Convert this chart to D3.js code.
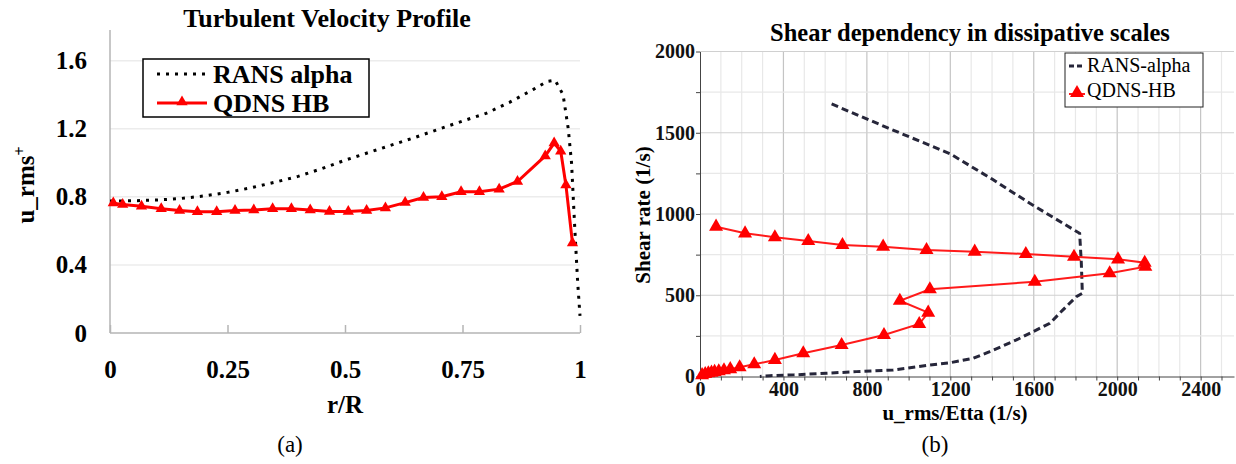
<!DOCTYPE html>
<html lang="en">
<head>
<meta charset="utf-8">
<title>Turbulent velocity / shear dependency</title>
<script src="https://cdn.jsdelivr.net/npm/d3@7"></script>
<style>
  body { margin: 0; background: #fff; }
  svg { display: block; font-family: "Liberation Serif", "Times New Roman", serif; }
  .axA .domain { display: none; }
  .axA text { font-family: "Liberation Serif", serif; font-weight: bold; font-size: 25px; fill: #000; }
  .axB text { font-family: "Liberation Serif", serif; font-weight: bold; font-size: 20px; fill: #111; }
  .axB line, .axB path { stroke: #444; }
</style>
</head>
<body>
<script>
// ---- panel (a): Turbulent Velocity Profile ----
var rRans = [0, 0.05, 0.10, 0.15, 0.20, 0.25, 0.30, 0.35, 0.40, 0.45, 0.50, 0.55, 0.60, 0.65, 0.70, 0.75, 0.80, 0.85, 0.90, 0.93, 0.947, 0.964, 0.975, 0.982, 0.989, 0.995, 1.0];
var uRans = [0.775, 0.777, 0.781, 0.79, 0.805, 0.826, 0.853, 0.885, 0.92, 0.965, 1.015, 1.06, 1.105, 1.15, 1.198, 1.245, 1.29, 1.355, 1.43, 1.478, 1.485, 1.40, 1.20, 1.00, 0.61, 0.30, 0.10];

var rQdns = [0.007, 0.027, 0.067, 0.109, 0.148, 0.186, 0.227, 0.266, 0.306, 0.346, 0.386, 0.426, 0.467, 0.507, 0.546, 0.586, 0.628, 0.667, 0.706, 0.747, 0.786, 0.828, 0.867, 0.926, 0.945, 0.959, 0.970, 0.984];
var uQdns = [0.763, 0.755, 0.745, 0.73, 0.72, 0.712, 0.712, 0.72, 0.722, 0.73, 0.73, 0.722, 0.714, 0.714, 0.72, 0.735, 0.766, 0.796, 0.80, 0.83, 0.83, 0.845, 0.89, 1.04, 1.116, 1.068, 0.87, 0.528];

var xTicksA = [0, 0.25, 0.5, 0.75, 1];
var yTicksA = [0, 0.4, 0.8, 1.2, 1.6];

// ---- panel (b): Shear dependency in dissipative scales ----
var etaRans = [631, 900, 1200, 1400, 1581, 1820, 1828, 1833, 1804, 1740, 1677, 1597, 1517, 1389, 1309, 1200, 1100, 926, 750, 607, 450, 335, 287];
var shearRans = [1677, 1530, 1370, 1215, 1066, 881, 700, 512, 491, 410, 327, 276, 225, 153, 112, 85, 70, 40, 30, 20, 10, 5, 0];

var etaQdns = [10, 25, 40, 55, 70, 90, 115, 145, 190, 260, 359, 495, 679, 882, 1051, 1094, 958, 1102, 1605, 1964, 2135, 2132, 2004, 1793, 1562, 1317, 1086, 878, 683, 519, 359, 216, 77];
var shearQdns = [8, 15, 20, 24, 28, 32, 38, 45, 57, 75, 102, 143, 194, 255, 323, 393, 466, 537, 583, 635, 675, 700, 721, 737, 754, 768, 778, 799, 809, 834, 857, 881, 922];

var xTicksB = [0, 400, 800, 1200, 1600, 2000, 2400];
var yTicksB = [0, 500, 1000, 1500, 2000];

var w = 1236, h = 464;
var svg = d3.select("body").append("svg").attr("width", w).attr("height", h);

// =================== (a) ===================
var xA = d3.scaleLinear().domain([0, 1]).range([110, 580]);
var yA = d3.scaleLinear().domain([0, 1.78]).range([333, 30]);
var ga = svg.append("g");

// faint gridlines
ga.selectAll(".gridA").data(yTicksA.slice(1)).enter().append("line")
  .attr("x1", xA(0)).attr("x2", xA(1))
  .attr("y1", function(d){ return yA(d); }).attr("y2", function(d){ return yA(d); })
  .style("stroke", "#ececec").style("stroke-width", 1.5);

// axes lines
ga.append("line").attr("x1", xA(0)).attr("x2", xA(0)).attr("y1", yA(0)).attr("y2", 30)
  .style("stroke", "#b5b5b5").style("stroke-width", 1.5);
ga.append("line").attr("x1", xA(0)).attr("x2", xA(1)).attr("y1", yA(0)).attr("y2", yA(0))
  .style("stroke", "#b5b5b5").style("stroke-width", 1.5);

var axBotA = ga.append("g").attr("class", "axA").attr("transform", "translate(0," + yA(0) + ")")
  .call(d3.axisBottom(xA).tickValues(xTicksA).tickSize(-8).tickPadding(27).tickFormat(d3.format("")));
axBotA.selectAll("line").style("stroke", "#b5b5b5").style("stroke-width", 1.5);

ga.append("g").attr("class", "axA").attr("transform", "translate(" + xA(0) + ",0)")
  .call(d3.axisLeft(yA).tickValues(yTicksA).tickSize(0).tickPadding(23).tickFormat(d3.format("")));

// RANS alpha (dotted)
var lineA = d3.line().x(function(d){ return xA(d[0]); }).y(function(d){ return yA(d[1]); });
ga.append("path").datum(d3.zip(rRans, uRans)).attr("d", lineA)
  .style("fill", "none").style("stroke", "#000").style("stroke-width", 3).style("stroke-dasharray", "3,6");

// QDNS HB
ga.append("path").datum(d3.zip(rQdns, uQdns)).attr("d", lineA)
  .style("fill", "none").style("stroke", "#ff0000").style("stroke-width", 3);
ga.selectAll(".triA").data(d3.zip(rQdns, uQdns)).enter().append("path")
  .attr("d", d3.symbol().type(d3.symbolTriangle).size(55))
  .attr("transform", function(d){ return "translate(" + xA(d[0]) + "," + yA(d[1]) + ")"; })
  .style("fill", "#ff0000");

// title & labels
ga.append("text").attr("x", 327).attr("y", 27).attr("text-anchor", "middle")
  .style("font-weight", "bold").style("font-size", "26px").text("Turbulent Velocity Profile");
ga.append("text").attr("x", 345).attr("y", 413).attr("text-anchor", "middle")
  .style("font-weight", "bold").style("font-size", "25px").text("r/R");
var yl = ga.append("text").attr("transform", "translate(34,185) rotate(-90)").attr("text-anchor", "middle")
  .style("font-weight", "bold").style("font-size", "25px");
yl.append("tspan").text("u_rms");
yl.append("tspan").attr("dy", -9).style("font-size", "16px").text("+");
ga.append("text").attr("x", 290).attr("y", 452).attr("text-anchor", "middle")
  .style("font-size", "23px").text("(a)");

// legend
var lgA = ga.append("g");
lgA.append("rect").attr("x", 143).attr("y", 59).attr("width", 226).attr("height", 58)
  .style("fill", "#fff").style("stroke", "#000").style("stroke-width", 1.5);
lgA.append("line").attr("x1", 157).attr("x2", 207).attr("y1", 74).attr("y2", 74)
  .style("stroke", "#000").style("stroke-width", 3).style("stroke-dasharray", "3,6");
lgA.append("line").attr("x1", 157).attr("x2", 207).attr("y1", 103).attr("y2", 103)
  .style("stroke", "#ff0000").style("stroke-width", 3);
lgA.append("path").attr("d", d3.symbol().type(d3.symbolTriangle).size(55))
  .attr("transform", "translate(182,102)").style("fill", "#ff0000");
lgA.append("text").attr("x", 213).attr("y", 83).style("font-weight", "bold").style("font-size", "26px").text("RANS alpha");
lgA.append("text").attr("x", 213).attr("y", 112).style("font-weight", "bold").style("font-size", "26px").text("QDNS HB");

// =================== (b) ===================
var xB = d3.scaleLinear().domain([0, 2560]).range([700, 1234]);
var yB = d3.scaleLinear().domain([0, 2000]).range([376.5, 51.5]);
var gb = svg.append("g");

// grid: minor then major
gb.selectAll(".vminor").data(d3.range(100, 2600, 100)).enter().append("line")
  .attr("x1", function(d){ return xB(d); }).attr("x2", function(d){ return xB(d); })
  .attr("y1", yB(0)).attr("y2", yB(2000))
  .style("stroke", function(d){ return d % 400 === 0 ? "#c4c4c4" : "#e8e8e8"; }).style("stroke-width", 1.2);
gb.selectAll(".hminor").data(d3.range(250, 2001, 250)).enter().append("line")
  .attr("x1", xB(0)).attr("x2", xB(2560))
  .attr("y1", function(d){ return yB(d); }).attr("y2", function(d){ return yB(d); })
  .style("stroke", function(d){ return d % 500 === 0 ? "#d0d0d0" : "#e8e8e8"; }).style("stroke-width", 1.2);

gb.append("g").attr("class", "axB").attr("transform", "translate(0," + yB(0) + ")")
  .call(d3.axisBottom(xB).tickValues(d3.range(0, 2600, 100)).tickSize(4).tickSizeOuter(0).tickPadding(1)
    .tickFormat(function(d){ return xTicksB.indexOf(d) >= 0 ? d : ""; }));
gb.append("g").attr("class", "axB").attr("transform", "translate(" + xB(0) + ",0)")
  .call(d3.axisLeft(yB).tickValues(d3.range(0, 2001, 250)).tickSize(4).tickSizeOuter(0).tickPadding(1)
    .tickFormat(function(d){ return yTicksB.indexOf(d) >= 0 ? d : ""; }));

var lineB = d3.line().x(function(d){ return xB(d[0]); }).y(function(d){ return yB(d[1]); });

// RANS-alpha (dashed)
gb.append("path").datum(d3.zip(etaRans, shearRans)).attr("d", lineB)
  .style("fill", "none").style("stroke", "#26263a").style("stroke-width", 3).style("stroke-dasharray", "7,4");

// QDNS-HB
gb.append("path").datum(d3.zip(etaQdns, shearQdns)).attr("d", lineB)
  .style("fill", "none").style("stroke", "#ff1a1a").style("stroke-width", 2);
gb.selectAll(".triB").data(d3.zip(etaQdns, shearQdns)).enter().append("path")
  .attr("d", d3.symbol().type(d3.symbolTriangle).size(85))
  .attr("transform", function(d){ return "translate(" + xB(d[0]) + "," + yB(d[1]) + ")"; })
  .style("fill", "#ff0000");

gb.append("text").attr("x", 970).attr("y", 41).attr("text-anchor", "middle")
  .style("font-weight", "bold").style("font-size", "24.5px").text("Shear dependency in dissipative scales");
gb.append("text").attr("x", 955).attr("y", 420).attr("text-anchor", "middle")
  .style("font-weight", "bold").style("font-size", "21px").text("u_rms/Etta (1/s)");
gb.append("text").attr("transform", "translate(650,215) rotate(-90)").attr("text-anchor", "middle")
  .style("font-weight", "bold").style("font-size", "21px").text("Shear rate (1/s)");
gb.append("text").attr("x", 935).attr("y", 452).attr("text-anchor", "middle")
  .style("font-size", "23px").text("(b)");

// legend
var lgB = gb.append("g");
lgB.append("rect").attr("x", 1065).attr("y", 53).attr("width", 138).attr("height", 54)
  .style("fill", "#fff").style("stroke", "#222").style("stroke-width", 1);
lgB.append("line").attr("x1", 1069).attr("x2", 1085).attr("y1", 66).attr("y2", 66)
  .style("stroke", "#26263a").style("stroke-width", 3).style("stroke-dasharray", "5,3");
lgB.append("line").attr("x1", 1069).attr("x2", 1085).attr("y1", 94).attr("y2", 94)
  .style("stroke", "#ff1a1a").style("stroke-width", 2);
lgB.append("path").attr("d", d3.symbol().type(d3.symbolTriangle).size(85))
  .attr("transform", "translate(1077,93)").style("fill", "#ff0000");
lgB.append("text").attr("x", 1087).attr("y", 72).style("font-size", "20px").text("RANS-alpha");
lgB.append("text").attr("x", 1087).attr("y", 97).style("font-size", "20px").text("QDNS-HB");
</script>
</body>
</html>
